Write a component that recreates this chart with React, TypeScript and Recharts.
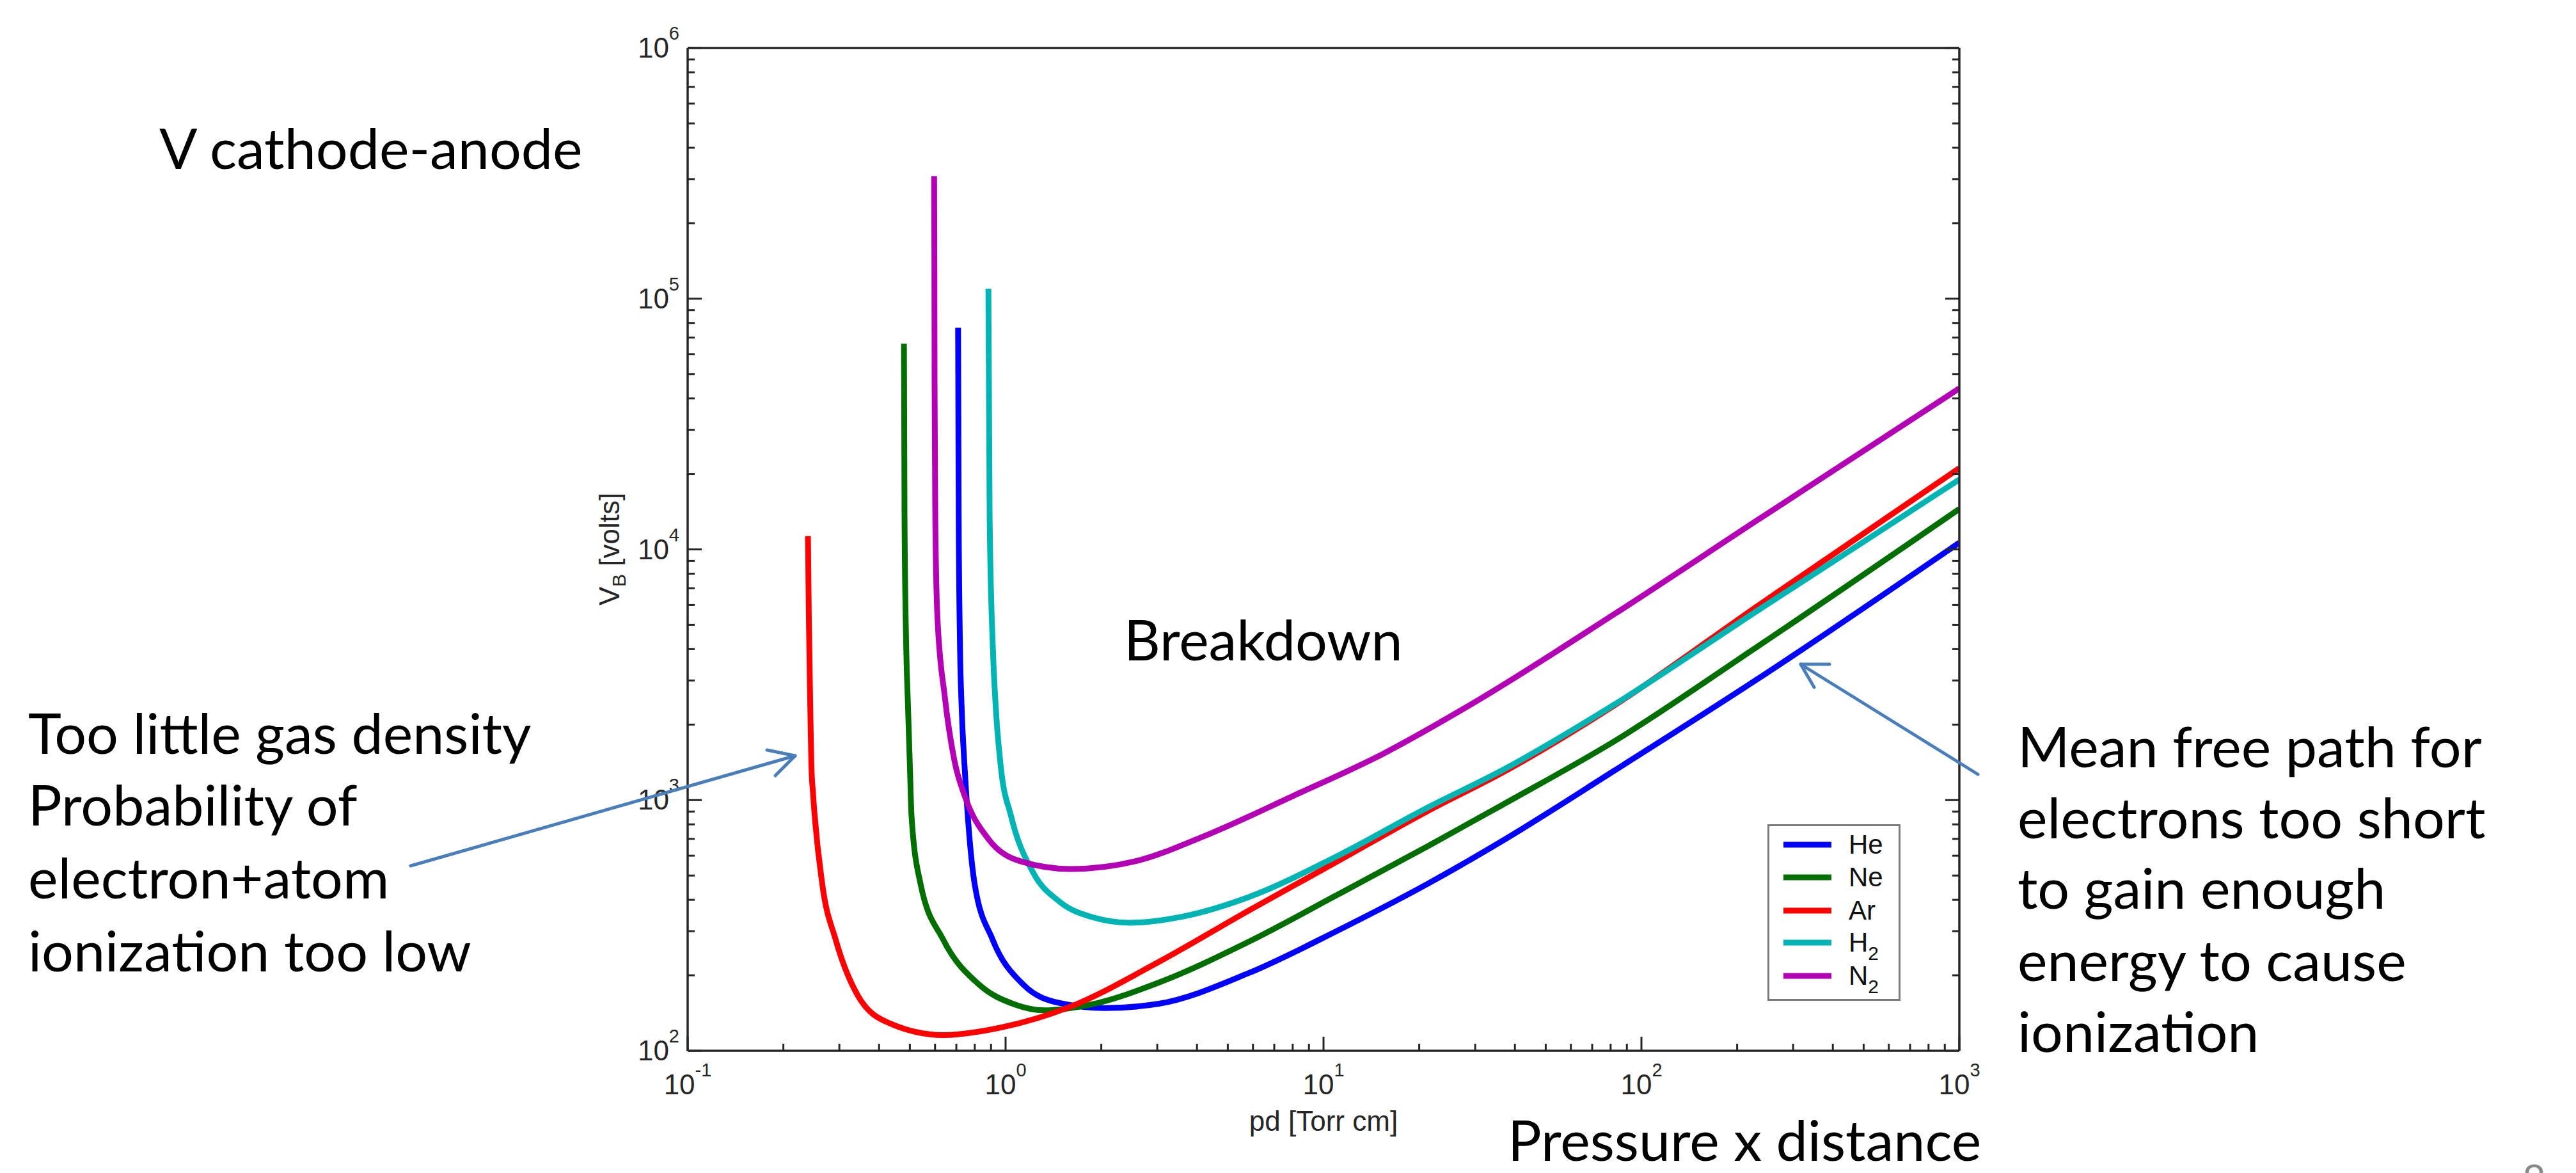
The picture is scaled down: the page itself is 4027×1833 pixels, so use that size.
import React from "react";
import { LineChart, Line, XAxis, YAxis, Legend } from "recharts";

// Paschen curves: pd [Torr cm] against breakdown voltage V_B [volts]
const gasNames = ["He", "Ne", "Ar", "H2", "N2"];
const gasColors = ["#0000ff", "#006e00", "#ff0000", "#00b4b4", "#b400b4"];

const hePd = [0.709, 0.712, 0.719, 0.727, 0.742, 0.752, 0.799, 0.91, 1.14, 1.48, 2.05, 3.03, 5.81, 11.1, 21.3, 36.7, 82.4, 232, 1000];
const heV = [76600, 13500, 4060, 2400, 1400, 1062, 464, 278, 183, 155, 148, 154, 204, 302, 464, 690, 1313, 3040, 10640];

const nePd = [0.479, 0.481, 0.487, 0.493, 0.5, 0.506, 0.54, 0.636, 0.828, 1.07, 1.32, 1.86, 3.03, 5.81, 11.1, 21.3, 36.7, 82.4, 232, 1000];
const neV = [66200, 13460, 4055, 2415, 1374, 865, 464, 278, 183, 153, 145, 153, 187, 272, 420, 655, 960, 1720, 4100, 14500];

const arPd = [0.239, 0.2405, 0.243, 0.245, 0.248, 0.265, 0.292, 0.343, 0.43, 0.636, 0.972, 1.58, 3.03, 5.81, 11.1, 21.3, 36.7, 82.4, 232, 1000];
const arV = [11300, 5470, 2400, 1374, 1062, 464, 278, 166, 129, 115.5, 124, 149, 226, 362, 571, 905, 1290, 2390, 5950, 21100];

const h2Pd = [0.883, 0.891, 0.912, 0.93, 0.965, 1.04, 1.22, 1.48, 1.86, 2.46, 3.56, 5.81, 11.1, 21.3, 36.7, 82.4, 232, 1000];
const h2V = [109600, 13460, 4055, 2415, 1374, 865, 515, 393, 342, 324, 342, 410, 600, 935, 1320, 2410, 5700, 19000];

const n2Pd = [0.596, 0.597, 0.598, 0.601, 0.61, 0.644, 0.69, 0.748, 0.881, 1.11, 1.6, 2.57, 4.19, 8.04, 15.4, 29.3, 82.4, 232, 1000];
const n2V = [308000, 148000, 44700, 13460, 5470, 2580, 1442, 1019, 702, 571, 531, 571, 716, 1040, 1530, 2420, 5530, 13100, 43900];

const xMajorTicks = [0.1, 1, 10, 100, 1000];
const yMajorTicks = [100, 1000, 10000, 100000, 1000000];
const minorSteps = [2, 3, 4, 5, 6, 7, 8, 9];

const allPd = [hePd, nePd, arPd, h2Pd, n2Pd];
const allV = [heV, neV, arV, h2V, n2V];

const series = gasNames.map((name, i) => ({
  name,
  color: gasColors[i],
  data: allPd[i].map((pd, j) => ({ pd, v: allV[i][j] })),
}));

const withMinor = (majors: number[]) =>
  majors.flatMap((m, i) =>
    i === majors.length - 1 ? [m] : [m, ...minorSteps.map((s) => +(m * s).toPrecision(6))]
  );

const xTicks = withMinor(xMajorTicks);
const yTicks = withMinor(yMajorTicks);

const AXIS = "#262626";
const TICK_FONT = "'Liberation Sans', Arial, sans-serif";
const NOTE_FONT = "Lato, 'Open Sans', sans-serif";
const ARROW = "#4a7ebb";

const isMajor = (v: number) => Math.abs(Math.log10(v) - Math.round(Math.log10(v))) < 1e-6;
const expOf = (v: number) => String(Math.round(Math.log10(v)));

const BottomTick = (props: any) => {
  const { x, y, payload } = props;
  const major = isMajor(payload.value);
  return (
    <g>
      <line x1={x} y1={y} x2={x} y2={y - (major ? 22 : 11)} stroke={AXIS} strokeWidth={3} />
      {major && (
        <text x={x} y={y + 68} textAnchor="middle" fontFamily={TICK_FONT} fontSize={44} fill={AXIS}>
          10<tspan dy={-28} fontSize={29}>{expOf(payload.value)}</tspan>
        </text>
      )}
    </g>
  );
};

const TopTick = (props: any) => {
  const { x, y, payload } = props;
  const major = isMajor(payload.value);
  return <line x1={x} y1={y} x2={x} y2={y + (major ? 22 : 11)} stroke={AXIS} strokeWidth={3} />;
};

const LeftTick = (props: any) => {
  const { x, y, payload } = props;
  const major = isMajor(payload.value);
  return (
    <g>
      <line x1={x} y1={y} x2={x + (major ? 22 : 11)} y2={y} stroke={AXIS} strokeWidth={3} />
      {major && (
        <text x={x - 13} y={y + 15} textAnchor="end" fontFamily={TICK_FONT} fontSize={44} fill={AXIS}>
          10<tspan dy={-28} fontSize={29}>{expOf(payload.value)}</tspan>
        </text>
      )}
    </g>
  );
};

const RightTick = (props: any) => {
  const { x, y, payload } = props;
  const major = isMajor(payload.value);
  return <line x1={x} y1={y} x2={x - (major ? 22 : 11)} y2={y} stroke={AXIS} strokeWidth={3} />;
};

// "H2" -> H with subscript 2
const gasLabel = (name: string, subDy: number, subSize: number) => {
  const m = name.match(/^([A-Za-z]+)(\d+)$/);
  if (!m) return name;
  return (
    <>
      {m[1]}
      <tspan dy={subDy} fontSize={subSize}>{m[2]}</tspan>
    </>
  );
};

const renderLegend = (props: any) => {
  // keep plotting order, not alphabetical
  const payload = [...(props.payload || [])].sort(
    (a: any, b: any) => gasNames.indexOf(String(a.value)) - gasNames.indexOf(String(b.value))
  );
  const rows = [32, 83, 135, 185, 237];
  return (
    <svg width={208} height={276} style={{ display: "block" }}>
      <rect x={1.5} y={1.5} width={205} height={273} fill="#ffffff" stroke="#7a7a7a" strokeWidth={3} />
      {payload.map((entry: any, i: number) => (
        <g key={entry.value}>
          <line x1={25} x2={100} y1={rows[i]} y2={rows[i]} stroke={entry.color} strokeWidth={9} />
          <text x={127} y={rows[i] + 14} fontFamily={TICK_FONT} fontSize={42} fill="#111">
            {gasLabel(String(entry.value), 13, 30)}
          </text>
        </g>
      ))}
    </svg>
  );
};

const noteLines = [
  { text: "V cathode-anode", x: 249, y: 264 },
  { text: "Breakdown", x: 1757, y: 1032 },
  { text: "Too little gas density", x: 44, y: 1178 },
  { text: "Probability of", x: 44, y: 1290 },
  { text: "electron+atom", x: 44, y: 1404 },
  { text: "ionization too low", x: 44, y: 1518 },
  { text: "Mean free path for", x: 3154, y: 1199 },
  { text: "electrons too short", x: 3154, y: 1310 },
  { text: "to gain enough", x: 3154, y: 1420 },
  { text: "energy to cause", x: 3154, y: 1533 },
  { text: "ionization", x: 3154, y: 1644 },
  { text: "Pressure x distance", x: 2357, y: 1814 },
];

const axisCommon = {
  type: "number" as const,
  scale: "log" as const,
  allowDataOverflow: true,
  interval: 0,
  tickSize: 0,
  tickMargin: 0,
  tickLine: false,
  axisLine: { stroke: AXIS, strokeWidth: 3.5 },
};

const App: React.FC = () => {
  return (
    <div style={{ position: "fixed", left: 0, top: 0, width: 4027, height: 1833, background: "#ffffff" }}>
      <LineChart width={4027} height={1833} margin={{ top: 74, right: 963, bottom: 190, left: 1074 }}>
        <XAxis {...axisCommon} dataKey="pd" domain={[0.1, 1000]} ticks={xTicks} height={1} tick={BottomTick} />
        <XAxis
          {...axisCommon}
          xAxisId="top"
          orientation="top"
          domain={[0.1, 1000]}
          ticks={xTicks}
          height={1}
          tick={TopTick}
        />
        <YAxis {...axisCommon} domain={[100, 1000000]} ticks={yTicks} width={1} tick={LeftTick} />
        <YAxis
          {...axisCommon}
          yAxisId="right"
          orientation="right"
          domain={[100, 1000000]}
          ticks={yTicks}
          width={1}
          tick={RightTick}
        />
        {series.map((s) => (
          <Line
            key={s.name}
            name={s.name}
            data={s.data}
            dataKey="v"
            type="monotone"
            stroke={s.color}
            strokeWidth={9}
            dot={false}
            activeDot={false}
            isAnimationActive={false}
          />
        ))}
        <Legend
          layout="vertical"
          align="center"
          verticalAlign="middle"
          width={208}
          height={276}
          wrapperStyle={{ left: 2763, top: 1288, width: 208, height: 276 }}
          content={renderLegend}
        />
      </LineChart>

      <svg
        width={4027}
        height={1833}
        style={{ position: "absolute", left: 0, top: 0, pointerEvents: "none" }}
      >
        {/* axis titles */}
        <text x={2069} y={1767} textAnchor="middle" fontFamily={TICK_FONT} fontSize={44} fill={AXIS}>
          pd [Torr cm]
        </text>
        <text
          transform="translate(968, 858) rotate(-90)"
          textAnchor="middle"
          fontFamily={TICK_FONT}
          fontSize={44}
          fill={AXIS}
        >
          V<tspan dy={10} fontSize={30}>B</tspan>
          <tspan dy={-10}> [volts]</tspan>
        </text>

        {/* slide annotations */}
        {noteLines.map((n) => (
          <text key={n.text} x={n.x} y={n.y} fontFamily={NOTE_FONT} fontSize={88} fill="#000000">
            {n.text}
          </text>
        ))}

        {/* arrows */}
        <g stroke={ARROW} strokeWidth={5} fill="none" strokeLinecap="round" strokeLinejoin="round">
          <line x1={642} y1={1353} x2={1243} y2={1181} />
          <polyline points="1199,1172 1243,1181 1212,1212" />
          <line x1={3092} y1={1210} x2={2815} y2={1038} />
          <polyline points="2860,1038 2815,1038 2836,1074" />
        </g>

        {/* page number, cut off at the bottom edge */}
        <text x={3943} y={1866} fontFamily={NOTE_FONT} fontSize={64} fill="#8a8a8a">
          8
        </text>
      </svg>
    </div>
  );
};

export default App;
